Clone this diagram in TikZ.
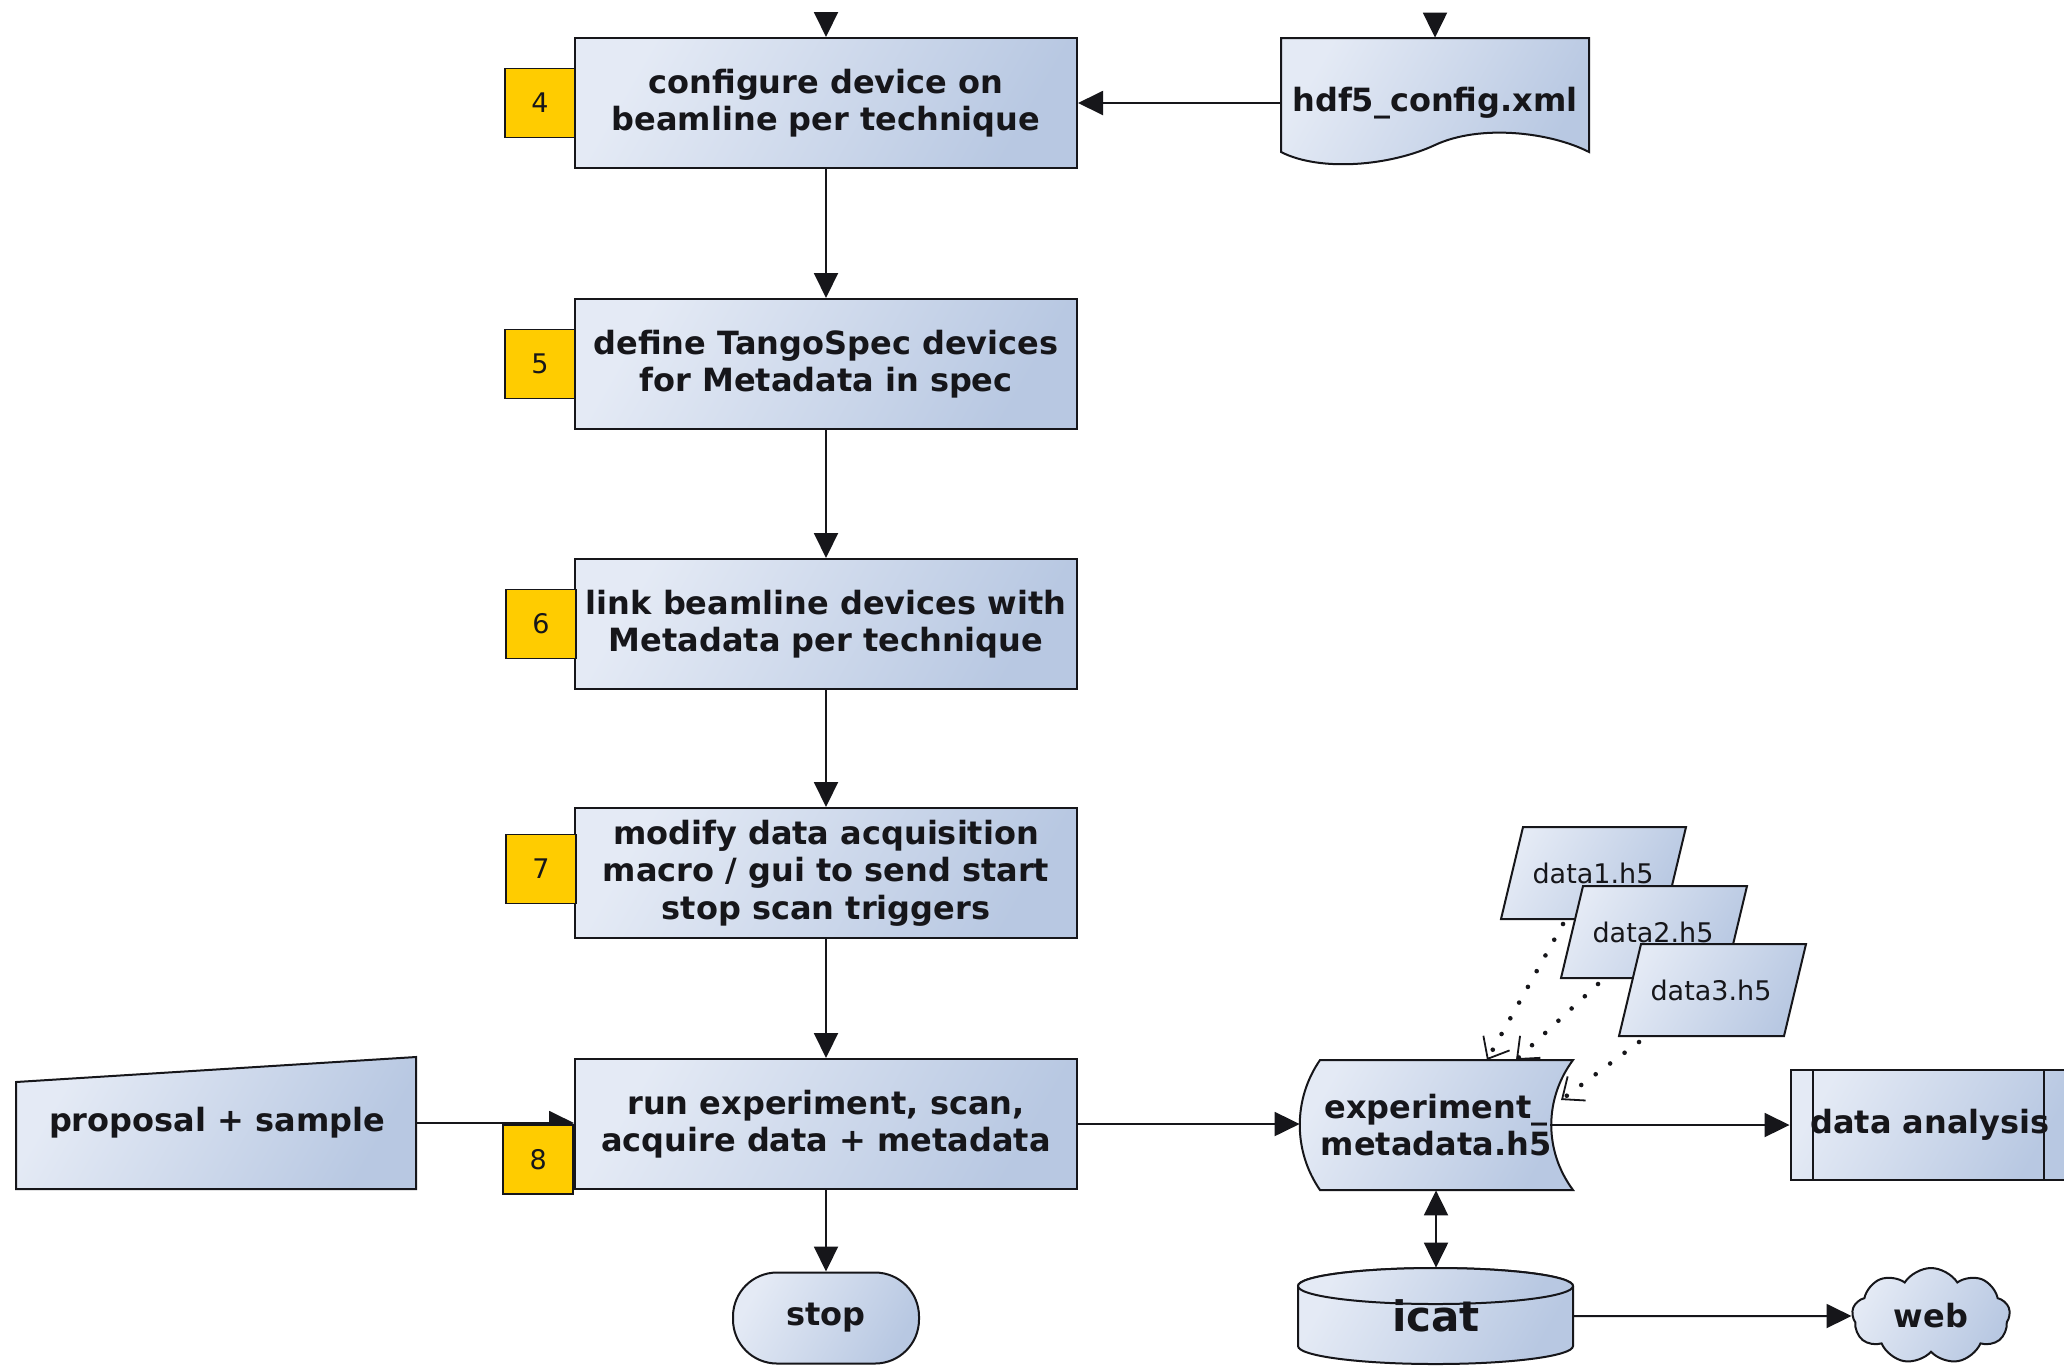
\documentclass[tikz,border=0pt]{standalone}
\usepackage{fontspec}
\setmainfont{DejaVu Sans}
\usetikzlibrary{arrows.meta, shapes.symbols, calc}

\definecolor{boxlight}{RGB}{228,234,245}
\definecolor{boxdark}{RGB}{184,200,226}
\definecolor{tagyellow}{RGB}{255,204,0}
\definecolor{ink}{RGB}{22,22,26}

\newcommand\procfont{\fontsize{16pt}{18.7pt}\selectfont\bfseries}
\newcommand\tagfont{\fontsize{13.5pt}{15pt}\selectfont}
\newcommand\datafont{\fontsize{13.5pt}{16pt}\selectfont}
\newcommand\dbfont{\fontsize{21pt}{24pt}\selectfont\bfseries}

\tikzset{
  flowfill/.style={left color=boxlight, right color=boxdark, shading angle=60},
  outline/.style={draw=ink, line width=1pt},
  process/.style={outline, flowfill, minimum width=251pt, minimum height=65pt,
    inner sep=0pt, align=center, text=ink, font=\procfont},
  tag/.style={draw=ink, line width=0.9pt, fill=tagyellow, minimum width=35pt,
    minimum height=34.5pt, inner sep=0pt, text=ink, font=\tagfont},
  label/.style={inner sep=0pt, align=center, text=ink, font=\procfont},
  datalabel/.style={inner sep=0pt, text=ink, font=\datafont},
  flow/.style={draw=ink, line width=1pt, -{Triangle[length=12.5pt, width=12pt]}},
  twoway/.style={draw=ink, line width=1pt,
    {Triangle[length=12.5pt, width=12pt]}-{Triangle[length=12.5pt, width=12pt]}},
  feed/.style={draw=ink, line width=2.3pt, line cap=round, dash pattern=on 0pt off 9pt,
    -{Straight Barb[length=9pt, width=15pt, line width=0.9pt]}},
}

\begin{document}
\begin{tikzpicture}[x=0.5pt, y=-0.5pt]
\useasboundingbox[fill=white] (0,0) rectangle (2064,1366);

% main process column
\node[process] (b4) at (826,103)  {configure device on\\beamline per technique};
\node[process] (b5) at (826,364)  {define TangoSpec devices\\for Metadata in spec};
\node[process] (b6) at (826,624)  {link beamline devices with\\Metadata per technique};
\node[process] (b7) at (826,873)  {modify data acquisition\\macro / gui to send start\\stop scan triggers};
\node[process] (b8) at (826,1124) {run experiment, scan,\\acquire data + metadata};

% terminal
\node[outline, flowfill, rounded corners=22pt, minimum width=93pt, minimum height=45.5pt,
  inner sep=0pt, text=ink, font=\procfont] (stop) at (826,1318) {stop};

% configuration document
\path[outline, flowfill] (1281,38) -- (1589,38) -- (1589,152)
  .. controls (1550,132) and (1480,124) .. (1435,145)
  .. controls (1390,166) and (1320,172) .. (1281,152) -- cycle;
\node[label, minimum width=154pt, minimum height=65pt] (hdf) at (1435,103) {hdf5\_config.xml};

% manual input
\path[outline, flowfill] (16,1082) -- (416,1057) -- (416,1189) -- (16,1189) -- cycle;
\node[label, minimum width=200pt, minimum height=65pt] (prop) at (217,1123) {proposal + sample};

% stored data
\path[outline, flowfill] (1320,1060) -- (1573,1060)
  .. controls (1544,1099) and (1544,1151) .. (1573,1190)
  -- (1320,1190) .. controls (1293,1151) and (1293,1099) .. (1320,1060) -- cycle;
\node[label, minimum width=136pt, minimum height=65pt] (exp) at (1436,1125) {experiment\_\\metadata.h5};
\coordinate (expr) at ($(exp.east)+(-22,0)$);

% predefined process
\node[outline, flowfill, minimum width=137.5pt, minimum height=55pt, inner sep=0pt,
  text=ink, font=\procfont] (da) at (1928,1125) {};
\draw[outline] ($(da.north west)+(23,0)$) -- ($(da.south west)+(23,0)$);
\draw[outline] ($(da.north east)+(-23,0)$) -- ($(da.south east)+(-23,0)$);
\node[label] (dal) at (1930,1125) {data analysis};

% database
\path[outline, flowfill] (1298,1286) -- (1298,1346)
  arc[start angle=180, end angle=360, x radius=68.75pt, y radius=9pt]
  -- (1573,1286)
  arc[start angle=0, end angle=180, x radius=68.75pt, y radius=9pt] -- cycle;
\path[outline, flowfill] (1435.5,1286) ellipse [x radius=68.75pt, y radius=9pt];
\node[inner sep=0pt, text=ink, font=\dbfont, minimum width=137.5pt, minimum height=48pt]
  (icat) at (1436,1316) {icat};

% web
\node[cloud, cloud puffs=9, cloud puff arc=115, aspect=1.6, outline, flowfill,
  minimum width=79pt, minimum height=48pt, inner sep=0pt, text=ink, font=\procfont]
  (web) at (1931,1316) {web};

% raw data files
\path[outline, flowfill] (1523,827) -- (1686,827) -- (1664,919) -- (1501,919) -- cycle;
\node[datalabel] (d1) at (1593,873) {data1.h5};
\path[outline, flowfill] (1583,886) -- (1747,886) -- (1725,978) -- (1561,978) -- cycle;
\node[datalabel] (d2) at (1653,932) {data2.h5};
\path[outline, flowfill] (1641,944) -- (1806,944) -- (1784,1036) -- (1619,1036) -- cycle;
\node[datalabel] (d3) at (1711,990) {data3.h5};

\coordinate (d1out) at (1563,924);
\coordinate (d2out) at (1598,984);
\coordinate (d3out) at (1639,1042);
\coordinate (exptop1) at (1487,1060);
\coordinate (exptop2) at (1516,1060);
\coordinate (expside) at (1561,1100);

% connectors
\coordinate (in4) at (826,13);
\coordinate (inhdf) at (1435,13);
\draw[flow] (in4) -- (b4.north);
\draw[flow] (inhdf) -- (hdf.north);
\draw[flow] (hdf.west) -- (b4.east);
\draw[flow] (b4.south) -- (b5.north);
\draw[flow] (b5.south) -- (b6.north);
\draw[flow] (b6.south) -- (b7.north);
\draw[flow] (b7.south) -- (b8.north);
\draw[flow] (b8.south) -- (stop.north);
\draw[flow] (prop.east) -- (prop.east -| b8.west);
\draw[flow] (b8.east) -- (b8.east -| exp.west);
\draw[flow] (expr) -- (expr -| da.west);
\draw[twoway] (exp.south) -- (icat.north);
\draw[flow] (icat.east) -- (web.west);

\draw[feed] (d1out) -- (exptop1);
\draw[feed] (d2out) -- (exptop2);
\draw[feed] (d3out) -- (expside);

% step numbers
\node[tag] (t4) at (540,103) {4};
\node[tag] (t5) at (540,364) {5};
\node[tag] (t6) at (541,624) {6};
\node[tag] (t7) at (541,869) {7};
\node[tag, anchor=north east] (t8) at (b8.west) {8};
\end{tikzpicture}
\end{document}
